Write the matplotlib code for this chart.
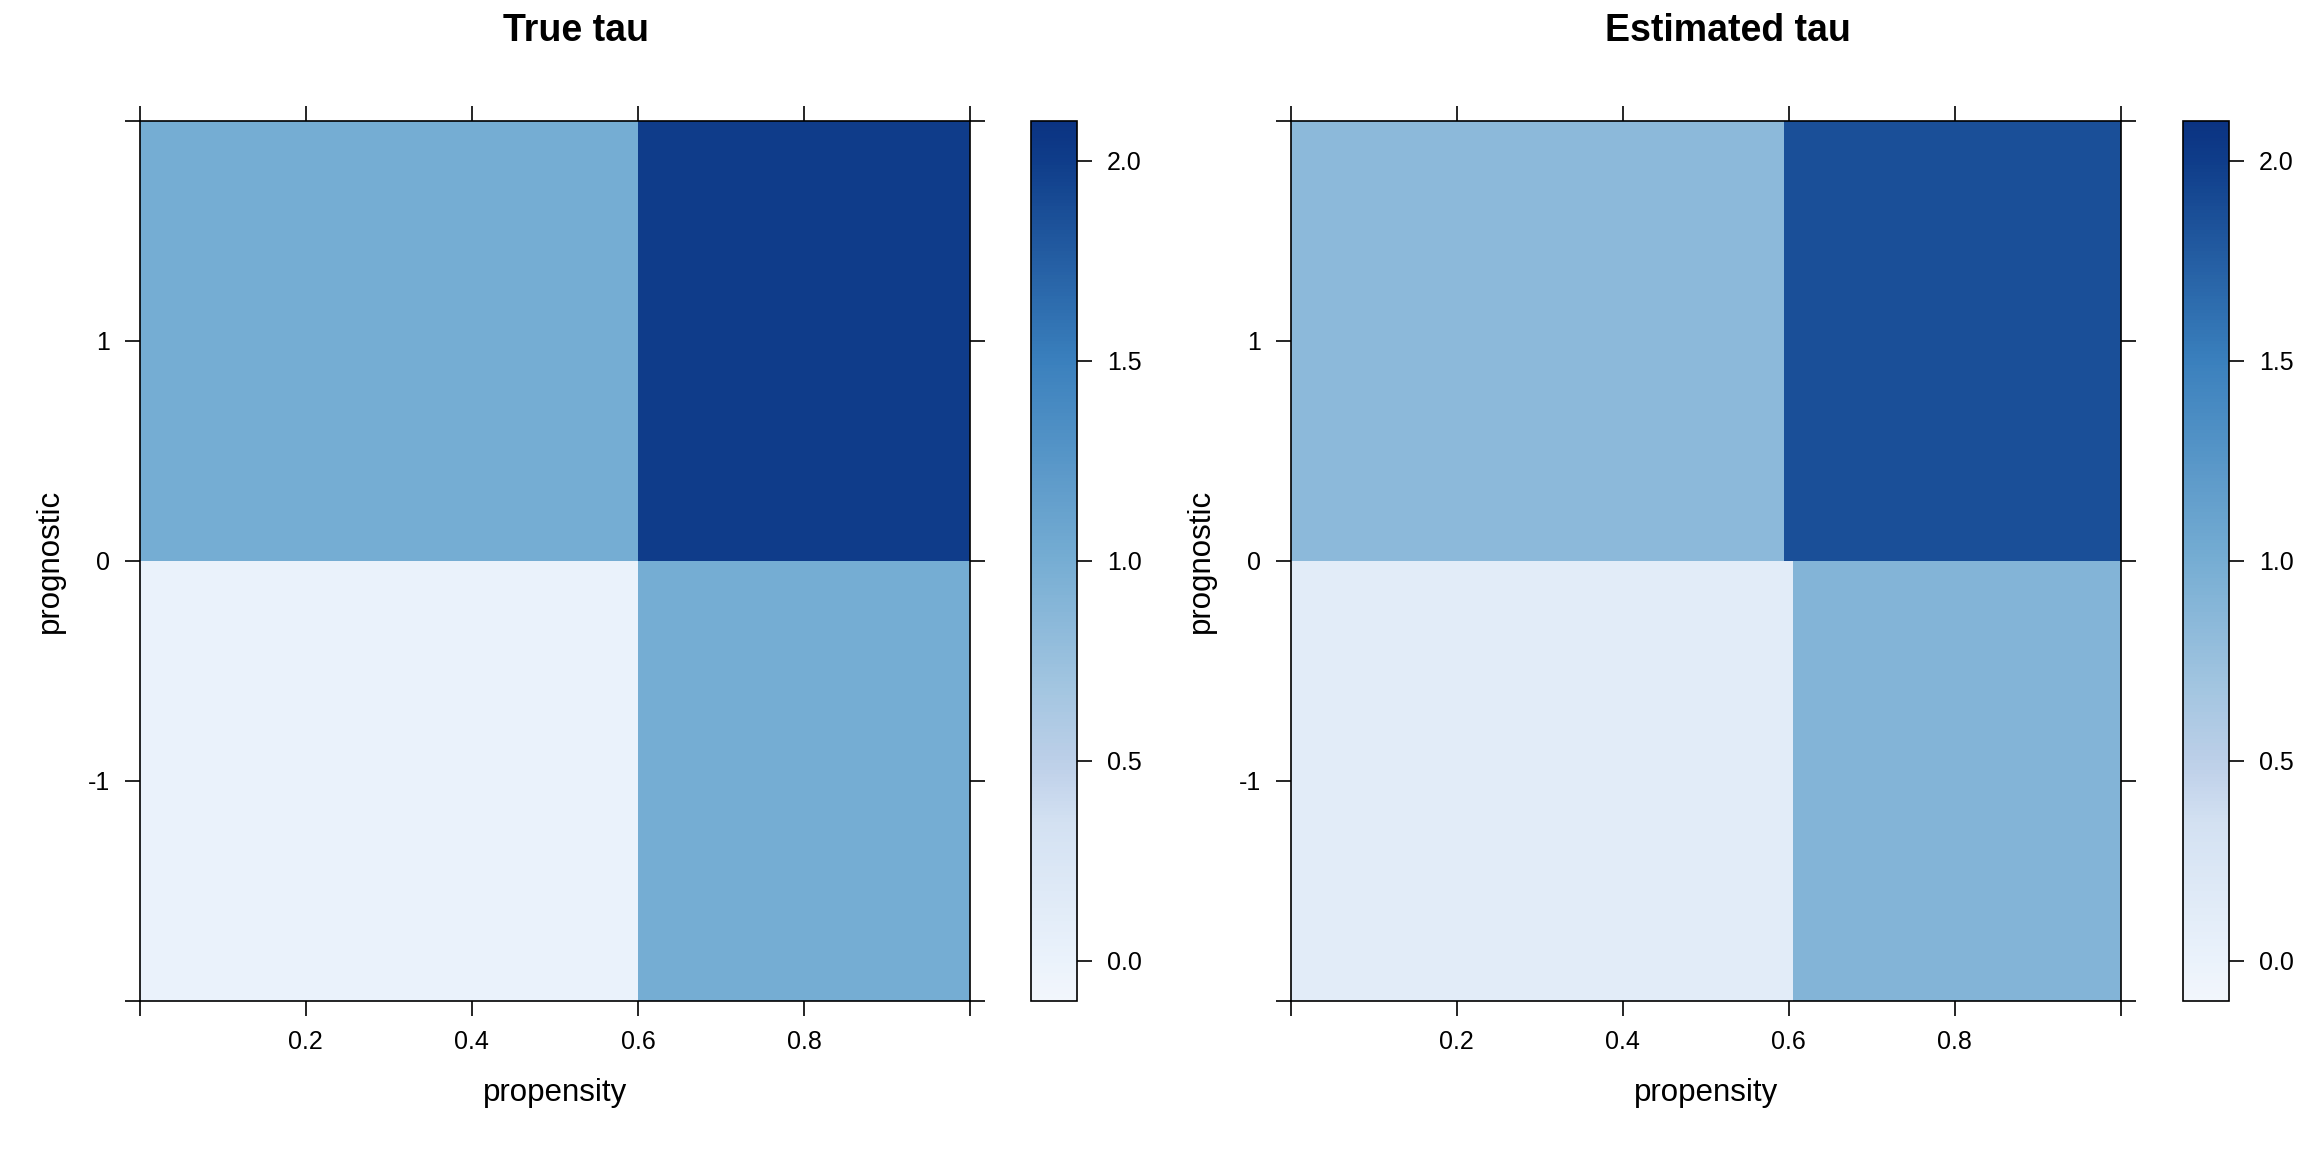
import numpy as np
import matplotlib
matplotlib.use("Agg")
import matplotlib.pyplot as plt
from matplotlib.colors import LinearSegmentedColormap

plt.rcParams['font.family'] = ['Liberation Sans', 'DejaVu Sans']

# ---------------- data ----------------
titles = ["True tau", "Estimated tau"]
xlabel = "propensity"
ylabel = "prognostic"

prognostic_edges = [-2.0, 0.0, 2.0]

propensity_edges_true = [0.0, 0.6, 1.0]
tau_true = [[0.0, 1.0],      # prognostic < 0
            [1.0, 2.0]]      # prognostic > 0

propensity_edges_est = [0.0, 0.594, 0.605, 1.0]
tau_est = [[0.12, 0.12, 0.91],
           [0.84, 1.86, 1.86]]

xticks = [0.0, 0.2, 0.4, 0.6, 0.8, 1.0]
xticklabels = ["", "0.2", "0.4", "0.6", "0.8", ""]
yticks = [-2, -1, 0, 1, 2]
yticklabels = ["", "-1", "0", "1", ""]
cbar_ticks = [0.0, 0.5, 1.0, 1.5, 2.0]
zlim = (-0.1, 2.1)

# palette (value -> colour)
palette_values = [-0.1, 0.0, 0.34, 0.5, 0.67, 1.0, 1.5, 2.0, 2.1]
palette_colors = ['#F2F6FC', '#EAF2FB', '#D3E1F2', '#BCCFE8', '#A4C6E1',
                  '#76ADD3', '#3A80BD', '#0F3D8A', '#0B3382']

cmap = LinearSegmentedColormap.from_list(
    "key", [((v - zlim[0]) / (zlim[1] - zlim[0]), c)
            for v, c in zip(palette_values, palette_colors)], N=256)

# ---------------- figure ----------------
W, H = 2304, 1152
fig = plt.figure(figsize=(W / 100, H / 100), dpi=100)

def fx(px):
    return px / W

ax_bottom = 1 - 1000.5 / H
ax_height = 880 / H
panels = [
    dict(ax_left=139.6, cb_left=1031, title_x=576,
         xe=propensity_edges_true, z=tau_true),
    dict(ax_left=1290.5, cb_left=2183, title_x=1728,
         xe=propensity_edges_est, z=tau_est),
]

tick_len = 11
lw = 1.2
for title, p in zip(titles, panels):
    ax = fig.add_axes([fx(p['ax_left']), ax_bottom, fx(830.5), ax_height])
    mesh = ax.pcolormesh(p['xe'], prognostic_edges, np.array(p['z']),
                         cmap=cmap, vmin=zlim[0], vmax=zlim[1],
                         shading='flat', edgecolors='none', antialiased=False)
    ax.set_xlim(0, 1)
    ax.set_ylim(-2, 2)
    ax.set_xticks(xticks)
    ax.set_xticklabels(xticklabels)
    ax.set_yticks(yticks)
    ax.set_yticklabels(yticklabels)
    ax.tick_params(direction='out', length=tick_len, width=lw, pad=10.5,
                   labelsize=18, top=True, right=True, colors='black')
    for s in ax.spines.values():
        s.set_linewidth(lw)
        s.set_color('black')
    ax.text(0.5, (H - 1093 - (H - 1000.5)) / 880, xlabel,
            transform=ax.transAxes, ha='center', va='center', fontsize=22.5)
    ax.text((50 - 139.6) / 830.5, 0.5, ylabel, transform=ax.transAxes,
            ha='center', va='center', rotation=90, fontsize=22.5)
    fig.text(fx(p['title_x']), 1 - 31 / H, title, ha='center', va='center',
             fontsize=27, fontweight='bold')

    cax = fig.add_axes([fx(p['cb_left']), ax_bottom, fx(46), ax_height])
    cb = fig.colorbar(mesh, cax=cax)
    cb.set_ticks(cbar_ticks)
    cb.set_ticklabels([f"{t:.1f}" for t in cbar_ticks])
    cb.minorticks_off()
    cb.outline.set_linewidth(lw)
    cb.outline.set_edgecolor('black')
    cax.tick_params(direction='out', length=tick_len, width=lw, pad=10.5,
                    labelsize=18)

fig.savefig("out.png", dpi=100)
